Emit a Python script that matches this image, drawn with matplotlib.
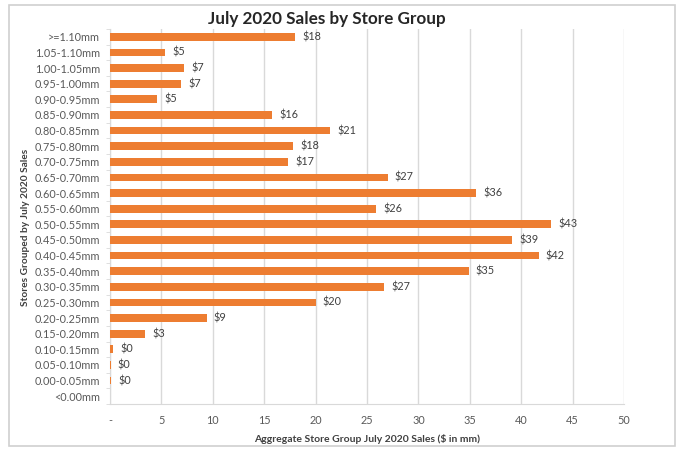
import matplotlib.pyplot as plt
from matplotlib.patches import Rectangle

plt.rcParams['font.family'] = ['Lato', 'DejaVu Sans']

groups = ['<0.00mm', '0.00-0.05mm', '0.05-0.10mm', '0.10-0.15mm', '0.15-0.20mm',
          '0.20-0.25mm', '0.25-0.30mm', '0.30-0.35mm', '0.35-0.40mm', '0.40-0.45mm',
          '0.45-0.50mm', '0.50-0.55mm', '0.55-0.60mm', '0.60-0.65mm', '0.65-0.70mm',
          '0.70-0.75mm', '0.75-0.80mm', '0.80-0.85mm', '0.85-0.90mm', '0.90-0.95mm',
          '0.95-1.00mm', '1.00-1.05mm', '1.05-1.10mm', '>=1.10mm']
sales = [None, 0.1, 0.05, 0.3, 3.4, 9.4, 20.0, 26.7, 34.9, 41.7,
         39.1, 42.9, 25.9, 35.6, 27.0, 17.3, 17.8, 21.4, 15.8, 4.6,
         6.9, 7.2, 5.35, 18.0]
xticks = [0, 5, 10, 15, 20, 25, 30, 35, 40, 45, 50]
xtick_labels = ['-', '5', '10', '15', '20', '25', '30', '35', '40', '45', '50']

bar_color = '#ED7D31'
text_color = '#404040'
grid_color = '#d9d9d9'

fig = plt.figure(figsize=(6.8, 4.5), dpi=100)
ax = fig.add_axes([0.1618, 0.1022, 0.7558, 0.8334])

pos = list(range(len(groups)))
vals = [0 if v is None else v for v in sales]
ax.barh(pos, vals, height=0.5, color=bar_color, zorder=3)

for p, v in zip(pos, sales):
    if v is None:
        continue
    ax.text(v + 0.7, p, f'${v:.0f}', va='center', ha='left',
            fontsize=7.8, color=text_color)

ax.set_xlim(0, 50)
ax.set_ylim(-0.5, len(groups) - 0.5)
ax.set_xticks(xticks)
ax.set_xticklabels(xtick_labels, fontsize=7.8, color='#595959')
ax.set_yticks(pos)
ax.set_yticklabels(groups, fontsize=7.8, color='#595959')
ax.tick_params(axis='y', length=0, pad=7)
ax.tick_params(axis='x', length=0, pad=8)
ax.set_yticks([p - 0.5 for p in pos] + [len(groups) - 0.5], minor=True)
ax.tick_params(axis='y', which='minor', length=3, color=grid_color, direction='out')

ax.grid(axis='x', color=grid_color, linewidth=1, zorder=0)
for side in ['top', 'right']:
    ax.spines[side].set_visible(False)
ax.spines['left'].set_color(grid_color)
ax.spines['bottom'].set_color(grid_color)

ax.set_xlabel('Aggregate Store Group July 2020 Sales ($ in mm)', fontsize=7.5,
              fontweight='bold', color=text_color, labelpad=6)
ax.set_ylabel('Stores Grouped by July 2020 Sales', fontsize=7.3,
              fontweight='bold', color=text_color)
ax.yaxis.set_label_coords(-0.155, 0.47)
fig.text(0.481, 0.958, 'July 2020 Sales by Store Group', ha='center', va='center',
         fontsize=12.3, fontweight='bold', color='#262626')

fig.patches.append(Rectangle((0.013, 0.008), 0.98, 0.98, transform=fig.transFigure,
                             fill=False, edgecolor='#d0d0d0', linewidth=1.2))

fig.savefig('out.png', dpi=100)
